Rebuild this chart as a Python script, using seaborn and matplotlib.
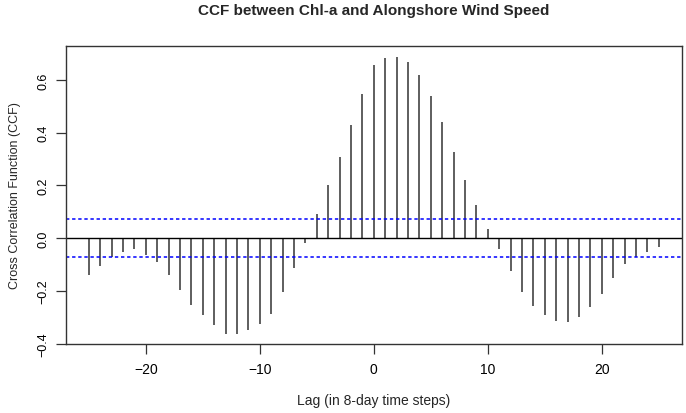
import numpy as np
import pandas as pd
import matplotlib
matplotlib.use("Agg")
import matplotlib.pyplot as plt
import seaborn as sns

lags = list(range(-25, 26))
ccf_values = [
    -0.138, -0.106, -0.073, -0.053, -0.043, -0.062, -0.091, -0.138, -0.195, -0.252,
    -0.290, -0.331, -0.362, -0.363, -0.348, -0.325, -0.287, -0.206, -0.113, -0.020,
    0.092, 0.202, 0.309, 0.429, 0.546, 0.658, 0.683, 0.688, 0.667, 0.619,
    0.539, 0.440, 0.326, 0.221, 0.127, 0.035, -0.043, -0.124, -0.204, -0.258,
    -0.290, -0.315, -0.320, -0.301, -0.263, -0.213, -0.151, -0.097, -0.070, -0.054,
    -0.035,
]
ci_bound = 0.072
x_ticks = [-20, -10, 0, 10, 20]
y_ticks = [-0.4, -0.2, 0.0, 0.2, 0.4, 0.6]

title = "CCF between Chl-a and Alongshore Wind Speed"
xlabel = "Lag (in 8-day time steps)"
ylabel = "Cross Correlation Function (CCF)"

df = pd.DataFrame({"lag": lags, "ccf": ccf_values})

sns.set_style("ticks")
plt.rcParams["font.family"] = ["Liberation Sans", "DejaVu Sans"]

fig = plt.figure(figsize=(6.86, 4.14), dpi=100)
ax = fig.add_axes([66 / 686, 1 - 345 / 414, (681.7 - 66) / 686, (345 - 46.5) / 414])

ax.vlines(df["lag"], 0, df["ccf"], color="#333333", linewidth=1.1)
ax.axhline(0, color="black", linewidth=1.0)
ax.axhline(ci_bound, color="#0000ff", linewidth=1.1, linestyle=(0, (2.2, 1.8)))
ax.axhline(-ci_bound, color="#0000ff", linewidth=1.1, linestyle=(0, (2.2, 1.8)))

ax.set_xlim(-27, 27)
ax.set_ylim(-0.4016, 0.7311)
ax.set_xticks(x_ticks)
ax.set_xticklabels(["\u221220", "\u221210", "0", "10", "20"])
ax.set_yticks(y_ticks)
ax.set_yticklabels(["\u22120.4", "\u22120.2", "0.0", "0.2", "0.4", "0.6"],
                   rotation=90, va="center")
ax.tick_params(axis="both", direction="out", length=7, width=0.9, color="#333333",
               labelcolor="black")
ax.tick_params(axis="x", labelsize=10, pad=6)
ax.tick_params(axis="y", labelsize=9, pad=5)
for s in ax.spines.values():
    s.set_visible(True)
    s.set_linewidth(1.0)
    s.set_color("#333333")

ax.set_xlabel(xlabel, fontsize=10, labelpad=12)
ax.set_ylabel(ylabel, fontsize=9, labelpad=12)
fig.text((66 + 681.7) / 2 / 686, 1 - 11 / 414, title, ha="center", va="center",
         fontsize=11, fontweight="bold")

fig.savefig("out.png", dpi=100)
